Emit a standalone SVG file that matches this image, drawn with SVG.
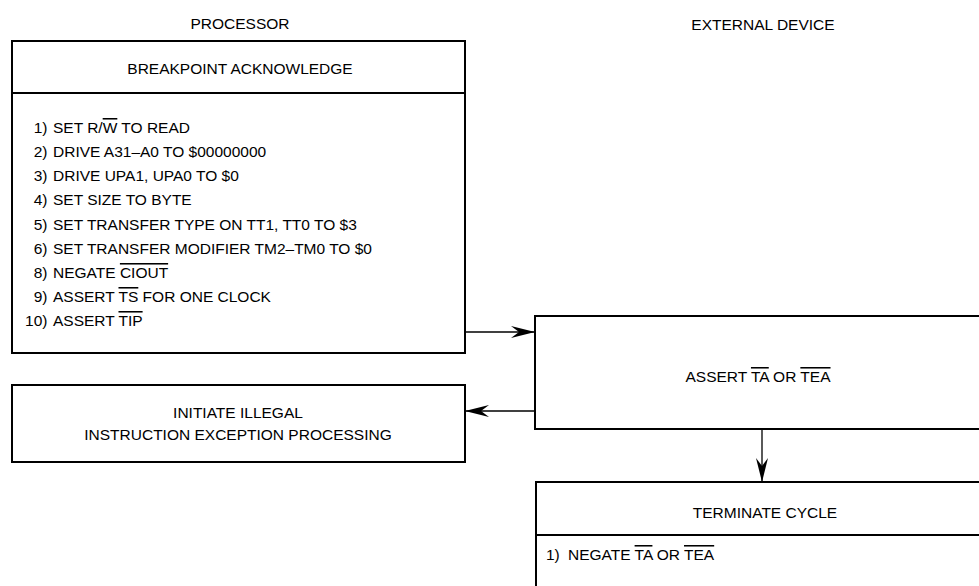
<svg xmlns="http://www.w3.org/2000/svg" width="979" height="586" viewBox="0 0 979 586">
<style>
  text { font-family: "Liberation Sans", Arial, sans-serif; font-size: 15.5px; fill: #000; }
  .c { text-anchor: middle; }
  .n { text-anchor: end; }
  .box { fill: #fff; stroke: #000; stroke-width: 2; }
  .div { stroke: #000; stroke-width: 2; }
  .ln { stroke: #000; stroke-width: 1.3; fill: none; }
  .ov { text-decoration: overline; }
</style>
<defs>
  <marker id="ah" markerUnits="userSpaceOnUse" viewBox="0 0 24 12" markerWidth="24" markerHeight="12" refX="24" refY="6" orient="auto">
    <path d="M0,0 L24,6 L0,12 L8,6 Z" fill="#000"/>
  </marker>
</defs>
<rect width="979" height="586" fill="#fff"/>

<text class="c" x="240" y="29">PROCESSOR</text>
<text class="c" x="763" y="30">EXTERNAL DEVICE</text>

<g id="breakpoint">
  <rect class="box" x="12" y="41" width="453" height="312"/>
  <line class="div" x1="12" y1="93" x2="465" y2="93"/>
  <text class="c" x="240" y="74">BREAKPOINT ACKNOWLEDGE</text>
  <text class="n" x="47.5" y="133">1)</text><text x="53" y="133">SET R/<tspan class="ov">W</tspan> TO READ</text>
  <text class="n" x="47.5" y="157">2)</text><text x="53" y="157">DRIVE A31–A0 TO $00000000</text>
  <text class="n" x="47.5" y="181">3)</text><text x="53" y="181">DRIVE UPA1, UPA0 TO $0</text>
  <text class="n" x="47.5" y="205">4)</text><text x="53" y="205">SET SIZE TO BYTE</text>
  <text class="n" x="47.5" y="230">5)</text><text x="53" y="230">SET TRANSFER TYPE ON TT1, TT0 TO $3</text>
  <text class="n" x="47.5" y="254">6)</text><text x="53" y="254">SET TRANSFER MODIFIER TM2–TM0 TO $0</text>
  <text class="n" x="47.5" y="278">8)</text><text x="53" y="278">NEGATE <tspan class="ov">CIOUT</tspan></text>
  <text class="n" x="47.5" y="302">9)</text><text x="53" y="302">ASSERT <tspan class="ov">TS</tspan> FOR ONE CLOCK</text>
  <text class="n" x="47.5" y="326">10)</text><text x="53" y="326">ASSERT <tspan class="ov">TIP</tspan></text>
</g>

<g id="illegal">
  <rect class="box" x="12" y="385" width="453" height="77"/>
  <text class="c" x="238" y="418">INITIATE ILLEGAL</text>
  <text class="c" x="238" y="440">INSTRUCTION EXCEPTION PROCESSING</text>
</g>

<g id="assert">
  <rect class="box" x="535" y="316" width="470" height="113"/>
  <text class="c" x="758" y="382">ASSERT <tspan class="ov">TA</tspan> OR <tspan class="ov">TEA</tspan></text>
</g>

<g id="terminate">
  <rect class="box" x="536" y="482" width="470" height="130"/>
  <line class="div" x1="536" y1="535" x2="979" y2="535"/>
  <text class="c" x="765" y="518">TERMINATE CYCLE</text>
  <text x="546" y="560">1)</text>
  <text x="568" y="560">NEGATE <tspan class="ov">TA</tspan> OR <tspan class="ov">TEA</tspan></text>
</g>

<g id="connectors">
  <line class="ln" x1="465" y1="332" x2="535" y2="332" marker-end="url(#ah)"/>
  <line class="ln" x1="535" y1="411" x2="465" y2="411" marker-end="url(#ah)"/>
  <line class="ln" x1="762" y1="429" x2="762" y2="482" marker-end="url(#ah)"/>
</g>
</svg>
